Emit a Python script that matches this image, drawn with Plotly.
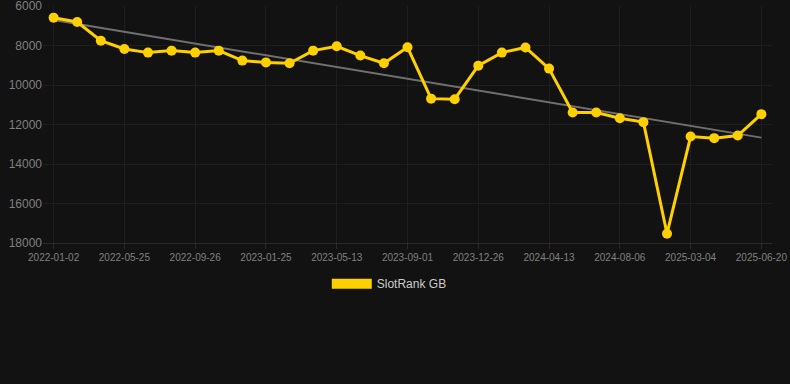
import plotly.graph_objects as go

# Data
point_index = list(range(31))
rank_values = [6590, 6810, 7755, 8175, 8360, 8260, 8360, 8260, 8765, 8855,
               8900, 8260, 8040, 8510, 8900, 8090, 10690, 10720, 9020, 8360,
               8100, 9170, 11395, 11395, 11680, 11880, 17530, 12610, 12690, 12560,
               11475]
tick_positions = [0, 3, 6, 9, 12, 15, 18, 21, 24, 27, 30]
tick_labels = ["2022-01-02", "2022-05-25", "2022-09-26", "2023-01-25", "2023-05-13",
               "2023-09-01", "2023-12-26", "2024-04-13", "2024-08-06", "2025-03-04",
               "2025-06-20"]
trend_x = [0, 30]
trend_values = [6710, 12665]
y_ticks = [6000, 8000, 10000, 12000, 14000, 16000, 18000]
y_tick_labels = ["6000", "8000", "10000", "12000", "14000", "16000", "18000"]
series_name = "SlotRank GB"

GOLD = "#FFD000"
BG = "#121212"
GRID = "#1e1e1e"

fig = go.Figure()
fig.add_trace(go.Scatter(
    x=trend_x, y=trend_values, mode="lines",
    line=dict(color="#707070", width=2), showlegend=False, hoverinfo="skip"))
fig.add_trace(go.Scatter(
    x=point_index, y=rank_values, mode="lines+markers",
    line=dict(color=GOLD, width=3), marker=dict(color=GOLD, size=10),
    name=series_name, showlegend=False))
# legend swatch trace
fig.add_trace(go.Scatter(
    x=[None], y=[None], mode="lines",
    line=dict(color=GOLD, width=12), name=series_name, showlegend=True))

fig.update_layout(
    width=790, height=384,
    paper_bgcolor=BG, plot_bgcolor=BG,
    margin=dict(l=43, r=18, t=6, b=141, autoexpand=False),
    font=dict(family="Arial, Liberation Sans, sans-serif", color="#808080"),
    legend=dict(orientation="h", x=0.475, xanchor="center", y=-0.111, yanchor="top",
                font=dict(size=12, color="#cccccc"), itemwidth=40,
                bgcolor="rgba(0,0,0,0)"),
    xaxis=dict(range=[-0.45, 30.45], tickmode="array", tickvals=tick_positions,
               ticktext=tick_labels, tickfont=dict(size=10, color="#808080"),
               showgrid=True, gridcolor=GRID, zeroline=False,
               showline=True, linecolor="#2a2a2a", linewidth=1,
               ticks="outside", ticklen=5, tickcolor="#2a2a2a", automargin=False,
               ticklabeloverflow="allow"),
    yaxis=dict(range=[18000, 6000], tickmode="array", tickvals=y_ticks,
               ticktext=y_tick_labels,
               tickfont=dict(size=12, color="#808080"),
               showgrid=True, gridcolor=GRID, zeroline=False, showline=False,
               ticks="", automargin=False, ticklabeloverflow="allow"),
)

fig.write_html("out.html", config={"displayModeBar": False},
               post_script="document.body.style.margin='0';")
